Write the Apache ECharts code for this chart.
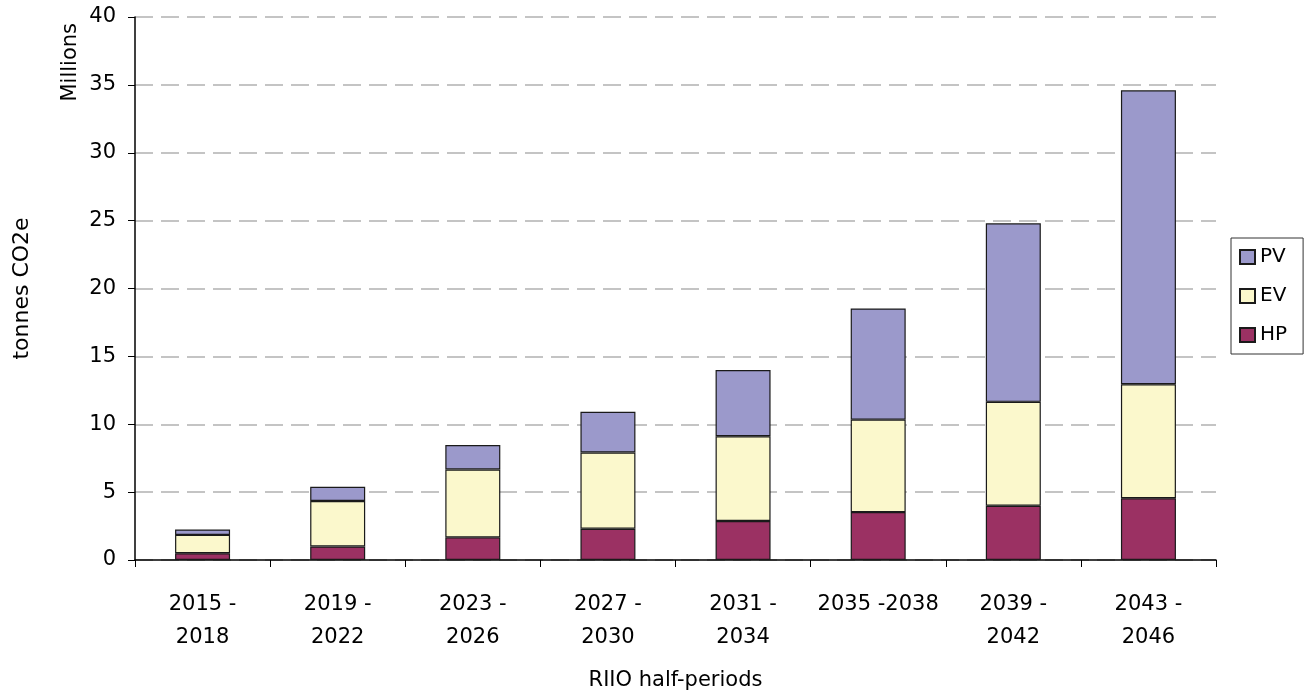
<!DOCTYPE html>
<html>
<head>
<meta charset="utf-8">
<script src="https://cdn.jsdelivr.net/npm/echarts@6/dist/echarts.min.js"></script>
<style>
    html, body { margin: 0; padding: 0; background: #fff; }
    #chart { width: 1311px; height: 696px; }
</style>
</head>
<body>
<div id="chart"></div>
<script>
// 类别（RIIO 半周期）
var periods = ['2015 -\n2018', '2019 -\n2022', '2023 -\n2026', '2027 -\n2030', '2031 -\n2034', '2035 -2038', '2039 -\n2042', '2043 -\n2046'];
// 各系列数值（百万吨 CO2e）
var hpData = [0.5, 1.0, 1.67, 2.3, 2.87, 3.53, 4.0, 4.55];
var evData = [1.35, 3.35, 5.0, 5.62, 6.25, 6.81, 7.65, 8.4];
var pvData = [0.4, 1.05, 1.8, 3.0, 4.87, 8.19, 13.15, 21.65];
var yTicks = [0, 5, 10, 15, 20, 25, 30, 35, 40];

var fontName = 'DejaVu Sans';

function initChart() {
    var myChart = echarts.init(document.getElementById('chart'));
    var barStyle = function (color) {
        return { color: color, borderColor: '#1a1a1a', borderWidth: 1.2 };
    };
    var option = {
        animation: false,
        textStyle: { fontFamily: fontName },
        grid: { left: 135, right: 95, top: 17, bottom: 130 },
        legend: {
            orient: 'vertical',
            left: 1231,
            top: 238,
            data: ['PV', 'EV', 'HP'],
            icon: 'rect',
            itemWidth: 15,
            itemHeight: 14,
            itemGap: 19,
            padding: [9, 16, 9, 8],
            borderColor: '#333',
            borderWidth: 1,
            textStyle: { fontSize: 20, color: '#000', fontFamily: fontName }
        },
        graphic: [{
            type: 'text',
            left: 60,
            top: 23,
            rotation: Math.PI / 2,
            style: { text: 'Millions', fontSize: 21, fill: '#000', fontFamily: fontName }
        }],
        xAxis: {
            type: 'category',
            data: periods,
            name: 'RIIO half-periods',
            nameLocation: 'middle',
            nameGap: 110,
            nameTextStyle: { fontSize: 21, color: '#000' },
            axisLine: { lineStyle: { color: '#000', width: 1.5 } },
            axisTick: { show: true, length: 7, lineStyle: { color: '#000' } },
            axisLabel: { fontSize: 21, color: '#000', lineHeight: 33, margin: 28, interval: 0 }
        },
        yAxis: {
            type: 'value',
            min: 0,
            max: 40,
            interval: 5,
            name: 'tonnes CO2e',
            nameLocation: 'middle',
            nameGap: 102,
            nameTextStyle: { fontSize: 22, color: '#000' },
            axisLine: { show: true, lineStyle: { color: '#000', width: 1.5 } },
            axisTick: { show: true, length: 7, lineStyle: { color: '#000' } },
            axisLabel: {
                fontSize: 21, color: '#000', margin: 19,
                formatter: function (v) { return yTicks.indexOf(v) >= 0 ? String(v) : ''; }
            },
            splitLine: { show: true, lineStyle: { color: '#c4c4c4', type: [18, 8], width: 2 } }
        },
        series: [{
            name: 'HP', type: 'bar', stack: 'total', barWidth: 55,
            data: hpData, itemStyle: barStyle('#9b3163')
        }, {
            name: 'EV', type: 'bar', stack: 'total', barWidth: 55,
            data: evData, itemStyle: barStyle('#fbf8cc')
        }, {
            name: 'PV', type: 'bar', stack: 'total', barWidth: 55,
            data: pvData, itemStyle: barStyle('#9b99cb')
        }]
    };
    myChart.setOption(option);
}

initChart();
</script>
</body>
</html>
